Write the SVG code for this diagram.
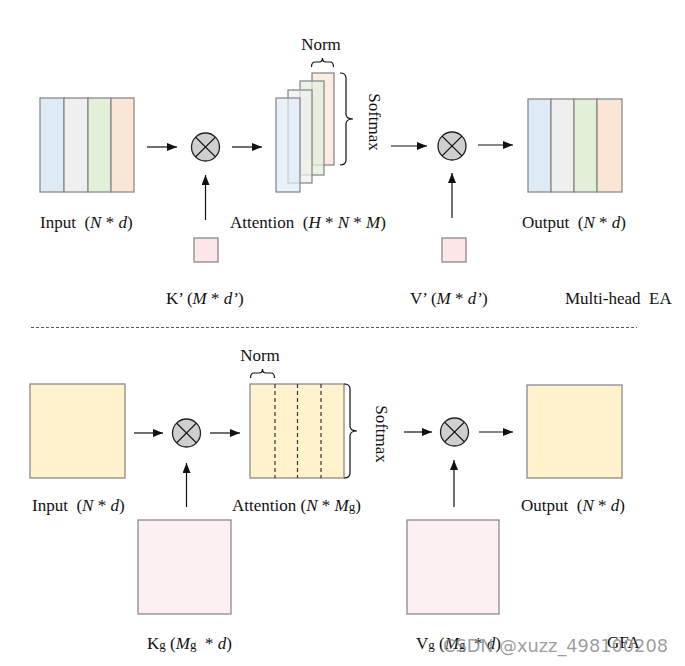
<svg xmlns="http://www.w3.org/2000/svg" width="685" height="666" viewBox="0 0 685 666">
<style>
  text { font-family: "Liberation Serif", "Times New Roman", serif; font-size: 17px; fill: #111; }
  .it { font-style: italic; }
  .sm { font-size: 13px; }
  .box { stroke: #8a8a8a; stroke-width: 1.3; }
  .c1 { fill: #deebf7; }
  .c2 { fill: #efefef; }
  .c3 { fill: #e2f0d9; }
  .c4 { fill: #fbe5d6; }
  .stk { fill-opacity: 0.72; }
  .yel { fill: #fff2cc; }
  .pink { fill: #fde6e8; }
  .pink2 { fill: #fdf0f3; }
  .conn { stroke: #111; stroke-width: 1.2; fill: none; marker-end: url(#ah); }
  .brace { stroke: #111; stroke-width: 1.2; fill: none; }
  .mul circle { fill: #cfcfcf; stroke: #222; stroke-width: 1.3; }
  .mul line { stroke: #111; stroke-width: 1.3; }
  .dash { stroke: #333; stroke-width: 1.2; stroke-dasharray: 4 3; }
</style>
<defs>
  <marker id="ah" markerUnits="userSpaceOnUse" markerWidth="10" markerHeight="8" refX="10" refY="4" orient="auto">
    <path d="M0,0 L10,4 L0,8 z" fill="#111"/>
  </marker>
</defs>

<!-- ===== Top: Multi-head EA ===== -->
<g id="input-top">
  <rect class="box c1" x="40" y="98" width="24" height="94"/>
  <rect class="box c2" x="64" y="98" width="24" height="94"/>
  <rect class="box c3" x="88" y="98" width="23" height="94"/>
  <rect class="box c4" x="111" y="98" width="23" height="94"/>
  <text x="40" y="228" xml:space="preserve">Input  (<tspan class="it">N</tspan> * <tspan class="it">d</tspan>)</text>
</g>

<g id="mul-top-1" class="mul">
  <circle cx="205.5" cy="147" r="14"/>
  <line x1="195.6" y1="137.1" x2="215.4" y2="156.9"/>
  <line x1="215.4" y1="137.1" x2="195.6" y2="156.9"/>
</g>

<g id="attention-top">
  <rect class="box c4 stk" x="312" y="73" width="22" height="92"/>
  <rect class="box c3 stk" x="300" y="81" width="24" height="94"/>
  <rect class="box c2 stk" x="288" y="90" width="24" height="93"/>
  <rect class="box c1 stk" x="276" y="98" width="24" height="94"/>
  <path class="brace" d="M311.5,67 Q311.5,62 315,62 L319,62 Q322.5,62 322.5,58 Q322.5,62 326,62 L330,62 Q333.5,62 333.5,67"/>
  <text x="321" y="50" text-anchor="middle">Norm</text>
  <path class="brace" d="M340,73 Q346,73 346,78 L346,114 Q346,119 353,119 Q346,119 346,124 L346,160 Q346,165 340,165"/>
  <text transform="translate(369,122) rotate(90)" text-anchor="middle">Softmax</text>
  <text x="230" y="228" xml:space="preserve">Attention  (<tspan class="it">H</tspan> * <tspan class="it">N</tspan> * <tspan class="it">M</tspan>)</text>
</g>

<g id="mul-top-2" class="mul">
  <circle cx="452" cy="146" r="14"/>
  <line x1="442.1" y1="136.1" x2="461.9" y2="155.9"/>
  <line x1="461.9" y1="136.1" x2="442.1" y2="155.9"/>
</g>

<g id="output-top">
  <rect class="box c1" x="528" y="99" width="23" height="93"/>
  <rect class="box c2" x="551" y="99" width="23" height="93"/>
  <rect class="box c3" x="574" y="99" width="23" height="93"/>
  <rect class="box c4" x="597" y="99" width="25" height="93"/>
  <text x="522" y="228" xml:space="preserve">Output  (<tspan class="it">N</tspan> * <tspan class="it">d</tspan>)</text>
</g>

<g id="k-prime">
  <rect class="box pink" x="194" y="238" width="24" height="24"/>
  <text x="166" y="304" xml:space="preserve">K’ (<tspan class="it">M</tspan> * <tspan class="it">d’</tspan>)</text>
</g>

<g id="v-prime">
  <rect class="box pink" x="442" y="238" width="24" height="24"/>
  <text x="410" y="304" xml:space="preserve">V’ (<tspan class="it">M</tspan> * <tspan class="it">d’</tspan>)</text>
</g>

<g id="label-mhea">
  <text x="565" y="304" xml:space="preserve">Multi-head  EA</text>
</g>

<g id="separator">
  <line x1="31" y1="327.5" x2="637" y2="327.5" stroke="#555" stroke-width="1.2" stroke-dasharray="3 2"/>
</g>

<!-- ===== Bottom: GFA ===== -->
<g id="input-bottom">
  <rect class="box yel" x="30" y="384" width="95" height="94"/>
  <text x="32" y="511" xml:space="preserve">Input  (<tspan class="it">N</tspan> * <tspan class="it">d</tspan>)</text>
</g>

<g id="mul-bottom-1" class="mul">
  <circle cx="186.5" cy="433" r="14"/>
  <line x1="176.6" y1="423.1" x2="196.4" y2="442.9"/>
  <line x1="196.4" y1="423.1" x2="176.6" y2="442.9"/>
</g>

<g id="attention-bottom">
  <rect class="box yel" x="250" y="384" width="94" height="94"/>
  <line class="dash" x1="275" y1="384" x2="275" y2="478"/>
  <line class="dash" x1="297.5" y1="384" x2="297.5" y2="478"/>
  <line class="dash" x1="321" y1="384" x2="321" y2="478"/>
  <path class="brace" d="M250.5,378 Q250.5,373 254,373 L259,373 Q262.5,373 262.5,369 Q262.5,373 266,373 L271,373 Q274.5,373 274.5,378"/>
  <text x="260" y="361" text-anchor="middle">Norm</text>
  <path class="brace" d="M344,384 Q350,384 350,389 L350,426 Q350,431 357,431 Q350,431 350,436 L350,473 Q350,478 344,478"/>
  <text transform="translate(376,434) rotate(90)" text-anchor="middle">Softmax</text>
  <text x="232" y="511" xml:space="preserve">Attention (<tspan class="it">N</tspan> * <tspan class="it">M</tspan><tspan class="sm">g</tspan>)</text>
</g>

<g id="mul-bottom-2" class="mul">
  <circle cx="454.5" cy="432" r="14"/>
  <line x1="444.6" y1="422.1" x2="464.4" y2="441.9"/>
  <line x1="464.4" y1="422.1" x2="444.6" y2="441.9"/>
</g>

<g id="output-bottom">
  <rect class="box yel" x="527" y="385" width="95" height="93"/>
  <text x="521" y="511" xml:space="preserve">Output  (<tspan class="it">N</tspan> * <tspan class="it">d</tspan>)</text>
</g>

<g id="kg">
  <rect class="box pink2" x="138" y="520" width="93" height="94"/>
  <text x="147" y="649" xml:space="preserve">K<tspan class="sm">g</tspan> (<tspan class="it">M</tspan><tspan class="sm">g</tspan>  * <tspan class="it">d</tspan>)</text>
</g>

<g id="vg">
  <rect class="box pink2" x="407" y="520" width="92" height="94"/>
  <text x="416" y="649" xml:space="preserve">V<tspan class="sm">g</tspan> (<tspan class="it">M</tspan><tspan class="sm">g</tspan>  * <tspan class="it">d</tspan>)</text>
</g>

<g id="label-gfa">
  <text x="607" y="648">GFA</text>
</g>

<g id="connectors">
  <line class="conn" x1="147" y1="147" x2="177" y2="147"/>
  <line class="conn" x1="232" y1="147" x2="262" y2="147"/>
  <line class="conn" x1="391" y1="146" x2="427" y2="146"/>
  <line class="conn" x1="478" y1="145" x2="513" y2="145"/>
  <line class="conn" x1="205.5" y1="220" x2="205.5" y2="175"/>
  <line class="conn" x1="452" y1="218" x2="452" y2="173"/>
  <line class="conn" x1="134" y1="433" x2="163" y2="433"/>
  <line class="conn" x1="210" y1="433" x2="240" y2="433"/>
  <line class="conn" x1="404" y1="432" x2="432" y2="432"/>
  <line class="conn" x1="479" y1="432" x2="513" y2="432"/>
  <line class="conn" x1="186.5" y1="507" x2="186.5" y2="463"/>
  <line class="conn" x1="454" y1="507" x2="454" y2="460"/>
</g>

<g id="watermark">
  <text x="443" y="652" textLength="225" lengthAdjust="spacingAndGlyphs" style="font-family: 'DejaVu Sans', sans-serif; font-size: 18px; fill: #8c8c8c; fill-opacity: 0.85;">CSDN @xuzz_498100208</text>
</g>
</svg>
